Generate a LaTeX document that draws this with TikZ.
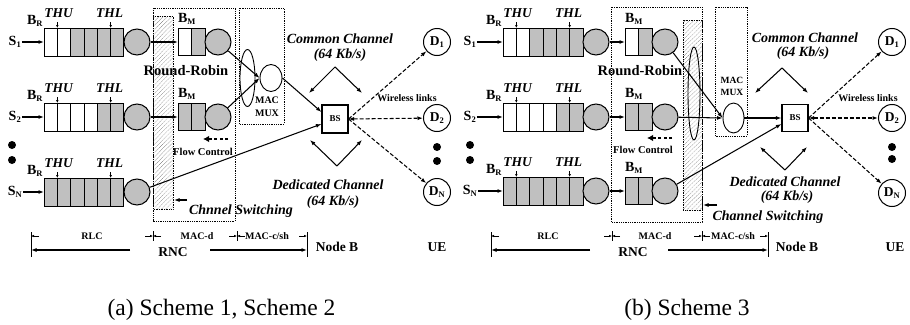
\documentclass[tikz,border=0pt]{standalone}
\usepackage{fontspec}
\setmainfont{Liberation Serif}
\usetikzlibrary{arrows.meta,patterns.meta,shapes.geometric}
\definecolor{qgray}{RGB}{192,192,192}
\newcommand\fsz[1]{\fontsize{#1}{#1}\selectfont}
\newcommand\sbs[1]{\textsubscript{\fsz{8.5}#1}}

% RLC queue of six cells with its server, thresholds and label
% #1 name, #2 left x, #3 row y, #4 number of empty cells
\newcommand\rlcq[4]{%
  \foreach \k in {1,...,6}{%
    \ifnum\k>#4\relax\def\qcf{qgray}\else\def\qcf{white}\fi
    \node[qcell, fill=\qcf] (#1-\k) at ({#2+(\k-0.5)*13.333}, #3) {};
  }
  \node[srv] (#1-s) at ({#2+93}, #3) {};
  \node[thr] (#1-u) at ({#2+14.5}, {#3-29}) {THU};
  \node[thr] (#1-l) at ({#2+65.5}, {#3-29}) {THL};
  \draw[tick] ([yshift=-4pt]#1-1.north east |- #1-u.south) -- (#1-1.north east);
  \draw[tick] ([yshift=-4pt]#1-5.north east |- #1-l.south) -- (#1-5.north east);
  \node[bl] (#1-b) at ({#2-9}, {#3-21}) {B\sbs{R}};
}
% MAC-d queue of two cells with its server and label
\newcommand\macq[4]{%
  \foreach \k in {1,2}{%
    \ifnum\k>#4\relax\def\qcf{qgray}\else\def\qcf{white}\fi
    \node[mcell, fill=\qcf] (#1-\k) at ({#2+(\k-0.5)*13.5}, #3) {};
  }
  \node[srv] (#1-s) at ({#2+40}, #3) {};
  \node[bl] (#1-b) at ({#2+9}, {#3-23}) {B\sbs{M}};
}

\tikzset{
  every node/.style={inner sep=0.5pt},
  ln/.style={line width=1pt},
  arr/.style={line width=1.05pt, -{Latex[length=5.5pt,width=4pt]}},
  tick/.style={line width=0.7pt, -{Latex[length=3pt,width=2.6pt]}},
  qcell/.style={draw, line width=1pt, minimum width=13.333pt, minimum height=28pt, inner sep=0pt, outer sep=0pt},
  mcell/.style={draw, line width=1pt, minimum width=13.5pt, minimum height=27pt, inner sep=0pt, outer sep=0pt},
  srv/.style={circle, draw, line width=1pt, fill=qgray, minimum size=26pt, inner sep=0pt},
  dev/.style={circle, draw, line width=1pt, fill=white, minimum size=27pt, inner sep=0pt, font=\fsz{13.5}\bfseries},
  dotbox/.style={draw, densely dotted, line width=0.8pt},
  hatchbox/.style={draw, densely dotted, line width=0.7pt, pattern={Lines[angle=45,distance=3pt,line width=0.4pt]}, pattern color=black!55},
  bsbox/.style={draw, line width=1.1pt, fill=white, minimum width=26pt, minimum height=28pt, inner sep=0pt, font=\fsz{9}\bfseries},
  ell/.style={ellipse, draw, line width=0.9pt, inner sep=0pt},
  thr/.style={font=\fsz{13.5}\bfseries\itshape},
  bl/.style={font=\fsz{14}\bfseries},
  chl/.style={font=\fsz{14}\bfseries\itshape},
  fc/.style={font=\fsz{10.5}\bfseries},
  wl/.style={font=\fsz{10}\bfseries},
  rr/.style={font=\fsz{14.5}\bfseries},
  dim/.style={font=\fsz{10}\bfseries},
  big/.style={font=\fsz{13.5}\bfseries},
  mux/.style={font=\fontsize{10}{12.5}\selectfont\bfseries, align=center},
  captxt/.style={font=\fsz{23.5}},
  flow/.style={line width=1.9pt, dash pattern=on 3pt off 2.5pt, -{Latex[length=6pt,width=6.5pt]}},
  warr/.style={line width=1.05pt, dash pattern=on 4pt off 2pt, -{Latex[length=5.5pt,width=4pt]}},
  wboth/.style={warr, {Latex[length=5.5pt,width=4pt]}-{Latex[length=5.5pt,width=4pt]}},
}

\begin{document}
\begin{tikzpicture}[x=1pt, y=-1pt]
\useasboundingbox (0,0) rectangle (910,324);

%%%%%%%%%%%%%%%% (a) Scheme 1, Scheme 2 %%%%%%%%%%%%%%%%
\draw[dotbox] (153,8) rectangle (235,221);
\draw[hatchbox] (153,16) rectangle (173,209);
\draw[dotbox] (239,8) rectangle (284,124);

\rlcq{qa1}{44}{42}{2}
\rlcq{qa2}{44}{117}{4}
\rlcq{qa3}{44}{192}{0}

\node[bl] (sa1) at (15,42) {S\sbs{1}};
\node[bl] (sa2) at (15,117) {S\sbs{2}};
\node[bl] (sa3) at (15,192) {S\sbs{N}};
\draw[arr] (sa1.east) -- (qa1-1.west);
\draw[arr] (sa2.east) -- (qa2-1.west);
\draw[arr] (sa3.east) -- (qa3-1.west);
\fill (12,145) circle (4);
\fill (12,160) circle (4);

\macq{ma1}{178}{42}{1}
\macq{ma2}{178}{117}{0}
\draw[arr] (qa1-s) -- (ma1-1.west);
\draw[arr] (qa2-s) -- (ma2-1.west);

\node[ell, minimum width=15pt, minimum height=57pt] (rea) at (247.5,78) {};
\node[ell, fill=white, minimum width=22pt, minimum height=27pt] (muxa) at (271,78) {};
\node[mux] (mta) at (267,106.5) {MAC\\MUX};
\node[bsbox] (bsa) at (335,119) {BS};

\draw[arr] (ma1-s) -- (muxa.west);
\draw[arr] (ma2-s) -- (muxa.west);
\draw[arr] (muxa.east) -- ([yshift=7pt]bsa.west);
\draw[arr] (qa3-s) -- ([yshift=-5pt]bsa.west);

\node[rr] (rrta) at (186,71) {Round-Robin};
\node[fc] (fcta) at (203,152) {Flow Control};
\coordinate (fca1) at (228,139);
\coordinate (fca2) at (203,139);
\draw[flow] (fca1) -- (fca2);
\coordinate (csa1) at (187,200);
\coordinate (csa2) at (174,200);
\draw[arr] (csa1) -- (csa2);
\node[chl] (csta) at (241,211) {Chnnel Switching};

\coordinate (cca) at (335,67);
\coordinate (ccal) at (309,93);
\coordinate (ccar) at (362,93);
\draw[arr] (cca) -- (ccal);
\draw[arr] (cca) -- (ccar);
\coordinate (dca) at (337,166);
\coordinate (dcal) at (310,140);
\coordinate (dcar) at (362,140);
\draw[arr] (dca) -- (dcal);
\draw[arr] (dca) -- (dcar);
\node[chl] (ccta) at (340,39) {Common Channel};
\node[chl] (ccra) at (340,55) {(64 Kb/s)};
\node[chl] (dcta) at (328,185) {Dedicated Channel};
\node[chl] (dcra) at (333,202) {(64 Kb/s)};

\node[dev] (da1) at (437,42) {D\sbs{1}};
\node[dev] (da2) at (437,118) {D\sbs{2}};
\node[dev] (da3) at (437,192) {D\sbs{N}};
\fill (437,147) circle (4);
\fill (437,161) circle (4);
\draw[warr] (bsa.east) -- (da1);
\draw[wboth] (bsa.east) -- (da2);
\draw[warr] (bsa.east) -- (da3);
\node[wl] (wla) at (407,98) {Wireless links};

% layer scale
\draw[ln] (31,232) -- (31,257);
\draw[ln] (307,232) -- (307,257);
\draw[line width=0.7pt] (153,231) -- (153,241);
\draw[line width=0.7pt] (237,231) -- (237,241);
\draw[tick] (39,236) -- (31,236);
\draw[tick] (145,236) -- (153,236);
\draw[tick] (161,236) -- (153,236);
\draw[tick] (229,236) -- (237,236);
\draw[tick] (245,236) -- (237,236);
\draw[tick] (299,236) -- (307,236);
\node[dim] (rlca) at (92,236) {RLC};
\node[dim] (macda) at (197,236) {MAC-d};
\node[dim] (macca) at (267,236) {MAC-c/sh};
\node[big] (rnca) at (173,252) {RNC};
\draw[arr] (130,250) -- (31,250);
\draw[arr] (210,250) -- (307,250);
\node[big] (nba) at (337,247) {Node B};
\node[big] (uea) at (437,247) {UE};
\node[captxt] (capa) at (221.5,310) {(a) Scheme 1, Scheme 2};

%%%%%%%%%%%%%%%% (b) Scheme 3 %%%%%%%%%%%%%%%%
\draw[dotbox] (611,7) rectangle (702,222);
\draw[hatchbox] (683,20) rectangle (702,210);
\draw[dotbox] (715,7) rectangle (747,136);

\rlcq{qb1}{503}{42}{2}
\rlcq{qb2}{503}{117}{4}
\rlcq{qb3}{503}{191}{0}

\node[bl] (sb1) at (470,42) {S\sbs{1}};
\node[bl] (sb2) at (470,117) {S\sbs{2}};
\node[bl] (sb3) at (470,191) {S\sbs{N}};
\draw[arr] (sb1.east) -- (qb1-1.west);
\draw[arr] (sb2.east) -- (qb2-1.west);
\draw[arr] (sb3.east) -- (qb3-1.west);
\fill (470,145) circle (4);
\fill (470,160) circle (4);

\macq{mb1}{625}{42}{1}
\macq{mb2}{625}{117}{0}
\macq{mb3}{625}{191}{0}
\draw[arr] (qb1-s) -- (mb1-1.west);
\draw[arr] (qb2-s) -- (mb2-1.west);
\draw[arr] (qb3-s) -- (mb3-1.west);

\node[ell, minimum width=12pt, minimum height=93pt] (reb) at (694,93.5) {};
\node[ell, fill=white, minimum width=21pt, minimum height=30pt] (muxb) at (733.5,118) {};
\node[mux, font=\fontsize{9.5}{12}\selectfont\bfseries] (mtb) at (732,86) {MAC\\MUX};
\node[bsbox, minimum height=27pt] (bsb) at (795,118) {BS};

\draw[arr] (mb1-s) -- (muxb.west);
\draw[arr] (mb2-s) -- (muxb.west);
\draw[arr] (muxb.east) -- (bsb.west);
\draw[arr] (mb3-s) -- ([yshift=-6pt]bsb.west);

\node[rr] (rrtb) at (640,71) {Round-Robin};
\node[fc] (fctb) at (643,150) {Flow Control};
\coordinate (fcb1) at (672,138);
\coordinate (fcb2) at (647,138);
\draw[flow] (fcb1) -- (fcb2);
\coordinate (csb1) at (717,205);
\coordinate (csb2) at (703,205);
\draw[arr] (csb1) -- (csb2);
\node[chl] (cstb) at (768,217) {Channel Switching};

\coordinate (ccb) at (782,68);
\coordinate (ccbl) at (755,93);
\coordinate (ccbr) at (808,93);
\draw[arr] (ccb) -- (ccbl);
\draw[arr] (ccb) -- (ccbr);
\coordinate (dcb) at (785,170);
\coordinate (dcbl) at (760,147);
\coordinate (dcbr) at (807,147);
\draw[arr] (dcb) -- (dcbl);
\draw[arr] (dcb) -- (dcbr);
\node[chl] (cctb) at (805,38) {Common Channel};
\node[chl] (ccrb) at (803,53) {(64 Kb/s)};
\node[chl] (dctb) at (785,182) {Dedicated Channel};
\node[chl] (dcrb) at (787,197) {(64 Kb/s)};

\node[dev] (db1) at (892,42) {D\sbs{1}};
\node[dev] (db2) at (892,118) {D\sbs{2}};
\node[dev] (db3) at (892,193) {D\sbs{N}};
\fill (892,147) circle (4);
\fill (892,159) circle (4);
\draw[warr] (bsb.east) -- (db1);
\draw[wboth] (bsb.east) -- (db2);
\draw[warr] (bsb.east) -- (db3);
\node[wl] (wlb) at (868,98) {Wireless links};

% layer scale
\draw[ln] (491,232) -- (491,257);
\draw[ln] (768,232) -- (768,257);
\draw[line width=0.7pt] (612,231) -- (612,241);
\draw[line width=0.7pt] (702,231) -- (702,241);
\draw[tick] (499,236) -- (491,236);
\draw[tick] (604,236) -- (612,236);
\draw[tick] (620,236) -- (612,236);
\draw[tick] (694,236) -- (702,236);
\draw[tick] (710,236) -- (702,236);
\draw[tick] (760,236) -- (768,236);
\node[dim] (rlcb) at (548,236) {RLC};
\node[dim] (macdb) at (655,236) {MAC-d};
\node[dim] (maccb) at (733,236) {MAC-c/sh};
\node[big] (rncb) at (633,252) {RNC};
\draw[arr] (590,250) -- (491,250);
\draw[arr] (668,250) -- (768,250);
\node[big] (nbb) at (797,247) {Node B};
\node[big] (ueb) at (895,247) {UE};
\node[captxt] (capb) at (687,310) {(b) Scheme 3};
\end{tikzpicture}
\end{document}
